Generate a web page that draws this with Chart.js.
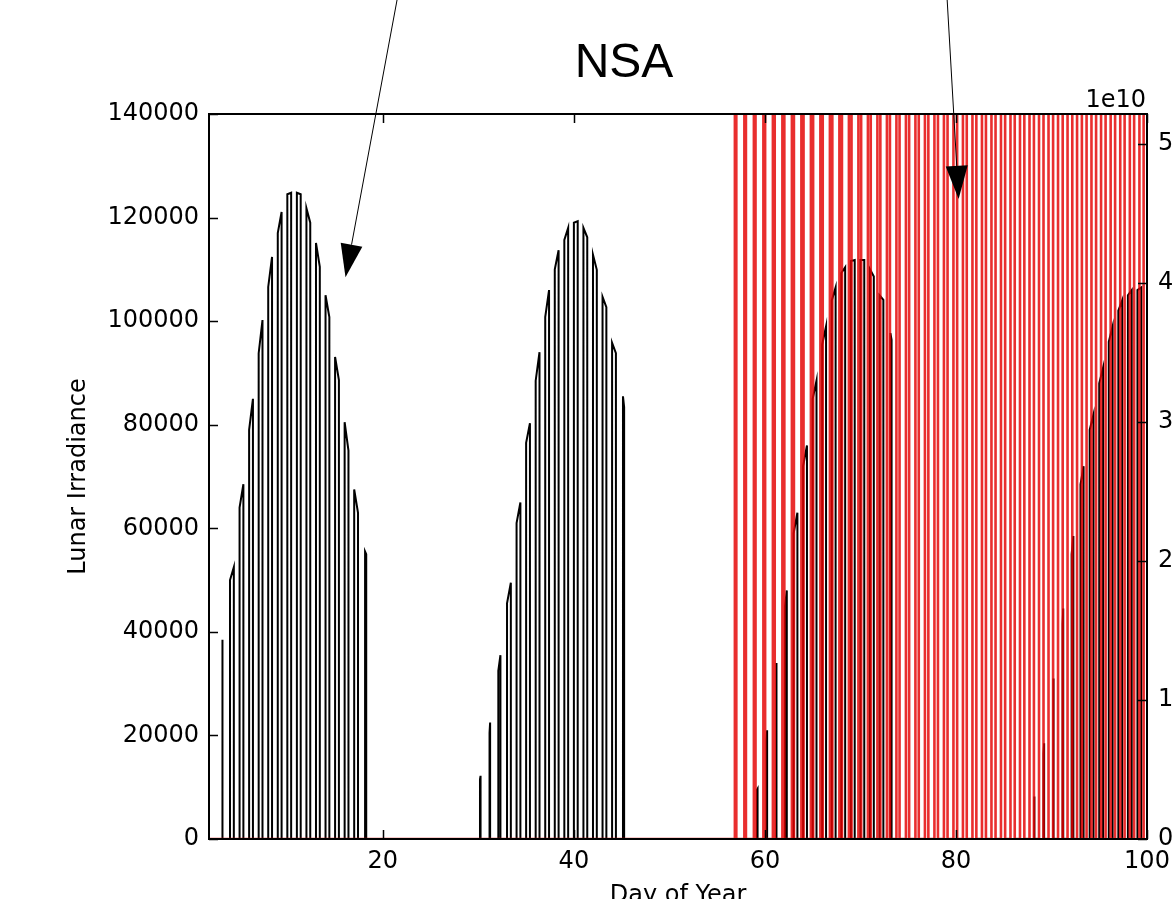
<!DOCTYPE html>
<html>
<head>
<meta charset="utf-8">
<title>NSA</title>
<script src="https://cdn.jsdelivr.net/npm/chart.js@4.4.1/dist/chart.umd.min.js"></script>
<style>
  html, body { margin: 0; padding: 0; overflow: hidden; background: #fff; }
  #wrap { width: 1200px; height: 930px; }
</style>
</head>
<body>
<div id="wrap"><canvas id="chart" width="1200" height="930" style="width:1200px;height:930px"></canvas></div>
<script>
// axis ranges / ticks
const xMin = 1.8;
const xMax = 100;
const xTickValues = [20, 40, 60, 80, 100];
const leftTickValues = [0, 20000, 40000, 60000, 80000, 100000, 120000, 140000];
const rightTickValues = [0, 1e10, 2e10, 3e10, 4e10, 5e10];
const rightMax = 5.216e10;

// lunar irradiance: one spike per day (value at start and end of the moonlit window)
const moonDays = [
  3, 4, 5, 6, 7, 8, 9, 10, 11, 12, 13, 14, 15, 16, 17, 18,
  30, 31, 32, 33, 34, 35, 36, 37, 38, 39, 40, 41, 42, 43, 44, 45,
  59, 60, 61, 62, 63, 64, 65, 66, 67, 68, 69, 70, 71, 72, 73,
  88, 89, 90, 91, 92, 93, 94, 95, 96, 97, 98, 99
];
const moonTopStart = [
  37000, 50000, 64000, 79000, 93800, 106600, 117000, 124500, 124800, 121800, 115100, 105000, 93100, 80500, 67500, 55500,
  11500, 20500, 32500, 45500, 61000, 76500, 88500, 100800, 110000, 115700, 119000, 118000, 112800, 104700, 95800, 85500,
  9500, 19000, 31000, 45000, 59000, 72000, 85000, 95500, 104000, 109300, 111600, 111800, 110000, 105000, 97700,
  8000, 16500, 28500, 41500, 55000, 68500, 79000, 88000, 96000, 102000, 105000, 106000
];
const moonTopEnd = [
  38500, 52500, 68500, 85000, 100200, 112400, 121100, 124800, 124500, 119000, 110500, 100800, 88600, 75000, 63000, 55000,
  12200, 22500, 35500, 49500, 65000, 80300, 94000, 106000, 113700, 118000, 119300, 116200, 109900, 102700, 93800, 83400,
  9700, 21000, 34000, 48000, 63000, 76000, 88500, 99000, 106500, 110400, 111800, 111800, 108600, 104100, 96400,
  8200, 18500, 31000, 44500, 58500, 72000, 82000, 91000, 99000, 104000, 106000, 106500
];
// length of the moonlit window, in days
const moonSpan = [
  0.06, 0.4, 0.4, 0.4, 0.4, 0.4, 0.4, 0.4, 0.4, 0.4, 0.4, 0.4, 0.4, 0.4, 0.4, 0.12,
  0.06, 0.06, 0.22, 0.4, 0.4, 0.4, 0.4, 0.4, 0.4, 0.4, 0.4, 0.4, 0.4, 0.4, 0.4, 0.12,
  0.06, 0.06, 0.06, 0.18, 0.4, 0.4, 0.4, 0.4, 0.4, 0.4, 0.4, 0.4, 0.4, 0.4, 0.12,
  0.06, 0.06, 0.06, 0.06, 0.18, 0.32, 0.4, 0.4, 0.4, 0.4, 0.4, 0.4
];
const moonCenter = 0.2;

// solar irradiance (right axis): one daylight spike per day, always above the axis top
const sunDays = [
  56, 57, 58, 59, 60, 61, 62, 63, 64, 65, 66, 67, 68, 69, 70, 71, 72, 73, 74, 75, 76, 77,
  78, 79, 80, 81, 82, 83, 84, 85, 86, 87, 88, 89, 90, 91, 92, 93, 94, 95, 96, 97, 98, 99
];
const sunHours = [
  3.6, 3.9, 4.1, 4.4, 4.6, 4.9, 5.1, 5.4, 5.6, 5.9, 6.1, 6.4, 6.6, 6.9, 7.1, 7.4, 7.6, 7.9, 8.1, 8.4, 8.6, 8.9,
  9.1, 9.3, 9.6, 9.8, 10.0, 10.3, 10.5, 10.7, 10.9, 11.1, 11.3, 11.5, 11.7, 11.9, 12.1, 12.3, 12.5, 12.7, 12.9, 13.1, 13.3, 13.5
];
const sunPeak = 8e10;
const solarNoon = 0.93;

// arrows [tailX, tailY, tipX, tipY] in left-axis data units
const arrowLeft = [22.07, 167800, 16.09, 108500];
const arrowRight = [78.9, 167800, 80.28, 123600];

function moonSeries() {
  const pts = [{ x: xMin, y: 0 }];
  for (let i = 0; i < moonDays.length; i++) {
    const c = moonDays[i] + moonCenter;
    const a = c - moonSpan[i] / 2;
    const b = c + moonSpan[i] / 2;
    pts.push({ x: a, y: 0 }, { x: a, y: moonTopStart[i] }, { x: b, y: moonTopEnd[i] }, { x: b, y: 0 });
  }
  pts.push({ x: xMax, y: 0 });
  return pts;
}

function sunSeries() {
  const pts = [{ x: xMin, y: 0 }];
  for (let i = 0; i < sunDays.length; i++) {
    const c = sunDays[i] + solarNoon;
    const h = sunHours[i] / 24 / 2;
    pts.push({ x: c - h, y: 0 }, { x: c - h, y: sunPeak }, { x: c + h, y: sunPeak }, { x: c + h, y: 0 });
  }
  pts.push({ x: xMax, y: 0 });
  return pts;
}

const tickFont = { family: 'DejaVu Sans', size: 24 };

// frame, inward ticks, title, offset text and arrows
const decorations = {
  id: 'decorations',
  afterDraw(chart) {
    const { ctx, chartArea: ca, scales } = chart;
    const tl = 9;
    ctx.save();
    ctx.strokeStyle = '#000';
    ctx.lineWidth = 1.5;
    ctx.beginPath();
    xTickValues.forEach(v => {
      const px = Math.round(scales.x.getPixelForValue(v)) + 0.5;
      ctx.moveTo(px, ca.bottom); ctx.lineTo(px, ca.bottom - tl);
      ctx.moveTo(px, ca.top); ctx.lineTo(px, ca.top + tl);
    });
    leftTickValues.forEach(v => {
      const py = Math.round(scales.y.getPixelForValue(v)) + 0.5;
      ctx.moveTo(ca.left, py); ctx.lineTo(ca.left + tl, py);
    });
    rightTickValues.forEach(v => {
      const py = Math.round(scales.y2.getPixelForValue(v)) + 0.5;
      ctx.moveTo(ca.right, py); ctx.lineTo(ca.right - tl, py);
    });
    ctx.stroke();

    ctx.lineWidth = 2;
    ctx.strokeRect(ca.left, ca.top, ca.right - ca.left, ca.bottom - ca.top);

    ctx.fillStyle = '#000';
    ctx.font = '48px "Liberation Sans", Arial, sans-serif';
    ctx.textAlign = 'center';
    ctx.textBaseline = 'alphabetic';
    ctx.fillText('NSA', 624, 77);

    ctx.font = '24px "DejaVu Sans"';
    ctx.textAlign = 'right';
    ctx.fillText('1e10', ca.right - 1, ca.top - 7);

    [arrowLeft, arrowRight].forEach(a => {
      const x0 = scales.x.getPixelForValue(a[0]);
      const y0 = scales.y.getPixelForValue(a[1]);
      const x1 = scales.x.getPixelForValue(a[2]);
      const y1 = scales.y.getPixelForValue(a[3]);
      const len = Math.hypot(x1 - x0, y1 - y0);
      const ux = (x1 - x0) / len, uy = (y1 - y0) / len;
      const headLen = 33, headHalf = 11;
      const bx = x1 - ux * headLen, by = y1 - uy * headLen;
      ctx.lineWidth = 1;
      ctx.beginPath();
      ctx.moveTo(x0, y0);
      ctx.lineTo(bx, by);
      ctx.stroke();
      ctx.beginPath();
      ctx.moveTo(x1, y1);
      ctx.lineTo(bx - uy * headHalf, by + ux * headHalf);
      ctx.lineTo(bx + uy * headHalf, by - ux * headHalf);
      ctx.closePath();
      ctx.fill();
    });
    ctx.restore();
  }
};

new Chart(document.getElementById('chart'), {
  type: 'line',
  data: {
    datasets: [
      {
        label: 'Solar',
        data: sunSeries(),
        yAxisID: 'y2',
        borderColor: 'rgba(228, 0, 0, 0.82)',
        borderWidth: 2.6,
        pointRadius: 0,
        tension: 0,
        clip: 0,
        order: 0
      },
      {
        label: 'Lunar Irradiance',
        data: moonSeries(),
        yAxisID: 'y',
        borderColor: '#000',
        borderWidth: 2,
        pointRadius: 0,
        tension: 0,
        clip: 0,
        order: 1
      }
    ]
  },
  options: {
    responsive: false,
    animation: false,
    parsing: false,
    devicePixelRatio: 1,
    layout: { padding: { top: 114, left: 0, right: 0, bottom: 0 } },
    plugins: {
      legend: { display: false },
      tooltip: { enabled: false }
    },
    scales: {
      x: {
        type: 'linear',
        position: 'bottom',
        min: xMin,
        max: xMax,
        afterBuildTicks: s => { s.ticks = xTickValues.map(v => ({ value: v })); },
        afterFit: s => { s.height = 91; },
        grid: { display: false, drawTicks: false },
        border: { display: false },
        ticks: { font: tickFont, color: '#000', padding: 8, maxRotation: 0, callback: v => String(v) },
        title: { display: true, text: 'Day of Year', font: tickFont, color: '#000', padding: { top: 0, bottom: 20 } }
      },
      y: {
        type: 'linear',
        position: 'left',
        min: 0,
        max: 140000,
        afterBuildTicks: s => { s.ticks = leftTickValues.map(v => ({ value: v })); },
        afterFit: s => { s.width = 209; },
        grid: { display: false, drawTicks: false },
        border: { display: false },
        ticks: { font: tickFont, color: '#000', padding: 10, callback: v => String(v) },
        title: { display: true, text: 'Lunar Irradiance', font: tickFont, color: '#000', padding: { top: 64, bottom: 0 } }
      },
      y2: {
        type: 'linear',
        position: 'right',
        min: 0,
        max: rightMax,
        afterBuildTicks: s => { s.ticks = rightTickValues.map(v => ({ value: v })); },
        afterFit: s => { s.width = 53; },
        grid: { display: false, drawTicks: false },
        border: { display: false },
        ticks: { font: tickFont, color: '#000', padding: 11, callback: v => String(Math.round(v / 1e10)) }
      }
    }
  },
  plugins: [decorations]
});
</script>
</body>
</html>
